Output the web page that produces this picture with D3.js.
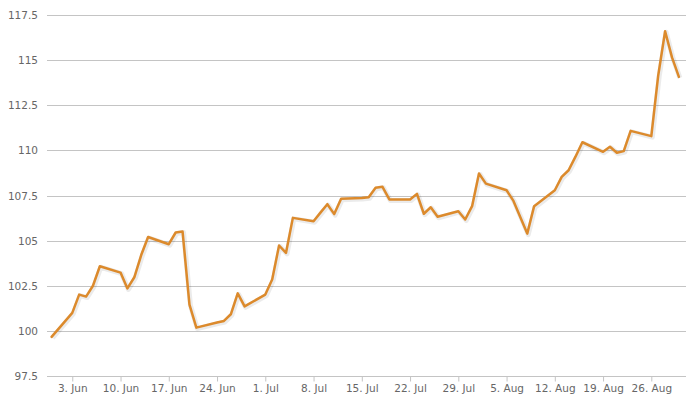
<!DOCTYPE html>
<html>
<head>
<meta charset="utf-8">
<script src="https://cdn.jsdelivr.net/npm/d3@7"></script>
<style>
  html, body { margin: 0; padding: 0; background: #fff; }
  svg { display: block; font-family: 'DejaVu Sans', Verdana, sans-serif; }
</style>
</head>
<body>
<svg id="chart" width="691" height="396"></svg>
<script>
const dates = [
  '2013-05-31',
  '2013-06-03', '2013-06-04', '2013-06-05', '2013-06-06', '2013-06-07',
  '2013-06-10', '2013-06-11', '2013-06-12', '2013-06-13', '2013-06-14',
  '2013-06-17', '2013-06-18', '2013-06-19', '2013-06-20', '2013-06-21',
  '2013-06-24', '2013-06-25', '2013-06-26', '2013-06-27', '2013-06-28',
  '2013-07-01', '2013-07-02', '2013-07-03', '2013-07-04', '2013-07-05',
  '2013-07-08', '2013-07-09', '2013-07-10', '2013-07-11', '2013-07-12',
  '2013-07-15', '2013-07-16', '2013-07-17', '2013-07-18', '2013-07-19',
  '2013-07-22', '2013-07-23', '2013-07-24', '2013-07-25', '2013-07-26',
  '2013-07-29', '2013-07-30', '2013-07-31', '2013-08-01', '2013-08-02',
  '2013-08-05', '2013-08-06', '2013-08-07', '2013-08-08', '2013-08-09',
  '2013-08-12', '2013-08-13', '2013-08-14', '2013-08-15', '2013-08-16',
  '2013-08-19', '2013-08-20', '2013-08-21', '2013-08-22', '2013-08-23',
  '2013-08-26', '2013-08-27', '2013-08-28', '2013-08-29', '2013-08-30'
];

const values = [
  99.67,
  101.0, 102.01, 101.9, 102.5, 103.58,
  103.23, 102.35, 102.97, 104.2, 105.2,
  104.8, 105.45, 105.5, 101.46, 100.18,
  100.46, 100.55, 100.92, 102.08, 101.36,
  102.01, 102.85, 104.73, 104.32, 106.26,
  106.07, 106.55, 107.02, 106.47, 107.32,
  107.36, 107.4, 107.93, 107.98, 107.28,
  107.28, 107.59, 106.49, 106.85, 106.32,
  106.63, 106.17, 106.91, 108.72, 108.16,
  107.79, 107.2, 106.3, 105.39, 106.91,
  107.79, 108.53, 108.9, 109.65, 110.45,
  109.92, 110.2, 109.87, 109.96, 111.08,
  110.79, 114.15, 116.6, 115.15, 114.07
];

const yTicks = [97.5, 100, 102.5, 105, 107.5, 110, 112.5, 115, 117.5];

const parseDate = d3.utcParse('%Y-%m-%d');
const series = dates.map((d, i) => ({ date: parseDate(d), value: values[i] }));

const plot = { left: 47, right: 686, top: 15, bottom: 376 };
const lineColor = '#dc8a2c';

const drawChart = () => {
  const svg = d3.select('#chart');

  const x = d3
    .scaleUtc()
    .domain(d3.extent(series, d => d.date))
    .range([51.6, 678.9]);

  const y = d3
    .scaleLinear()
    .domain([yTicks[0], yTicks[yTicks.length - 1]])
    .range([plot.bottom, plot.top]);

  // horizontal grid
  const grid = svg.append('g').attr('class', 'grid');
  grid.selectAll('line')
    .data(yTicks)
    .enter()
    .append('line')
    .attr('x1', plot.left)
    .attr('x2', plot.right)
    .attr('y1', d => Math.round(y(d)) + 0.5)
    .attr('y2', d => Math.round(y(d)) + 0.5)
    .attr('stroke', '#c4c4c4')
    .attr('stroke-width', 1);

  // y labels
  svg.append('g')
    .selectAll('text')
    .data(yTicks)
    .enter()
    .append('text')
    .attr('x', 38)
    .attr('y', d => y(d) + 4)
    .attr('text-anchor', 'end')
    .attr('font-size', '10.5px')
    .attr('fill', '#666')
    .text(d => d);

  // x axis
  const xAxis = d3
    .axisBottom(x)
    .ticks(d3.utcMonday.every(1))
    .tickSize(5)
    .tickPadding(3)
    .tickFormat(d3.utcFormat('%-d. %b'));

  const gx = svg.append('g')
    .attr('transform', `translate(0, ${Math.round(plot.bottom) + 0.5})`)
    .call(xAxis);
  gx.select('.domain').remove();
  gx.append('line')
    .attr('x1', plot.left)
    .attr('x2', plot.right)
    .attr('stroke', '#c4c4c4');
  gx.selectAll('.tick line').attr('stroke', '#c4c4c4');
  gx.selectAll('.tick text')
    .attr('font-family', "'DejaVu Sans', Verdana, sans-serif")
    .attr('font-size', '10.5px')
    .attr('fill', '#666');

  const line = d3
    .line()
    .x(d => x(d.date))
    .y(d => y(d.value));

  // soft shadow under the series
  svg.append('path')
    .datum(series)
    .attr('fill', 'none')
    .attr('stroke', '#000')
    .attr('stroke-opacity', 0.08)
    .attr('stroke-width', 5)
    .attr('stroke-linejoin', 'round')
    .attr('transform', 'translate(1,1)')
    .attr('d', line);

  svg.append('path')
    .datum(series)
    .attr('fill', 'none')
    .attr('stroke', lineColor)
    .attr('stroke-width', 2.5)
    .attr('stroke-linejoin', 'round')
    .attr('stroke-linecap', 'round')
    .attr('d', line);
};

drawChart();
</script>
</body>
</html>
